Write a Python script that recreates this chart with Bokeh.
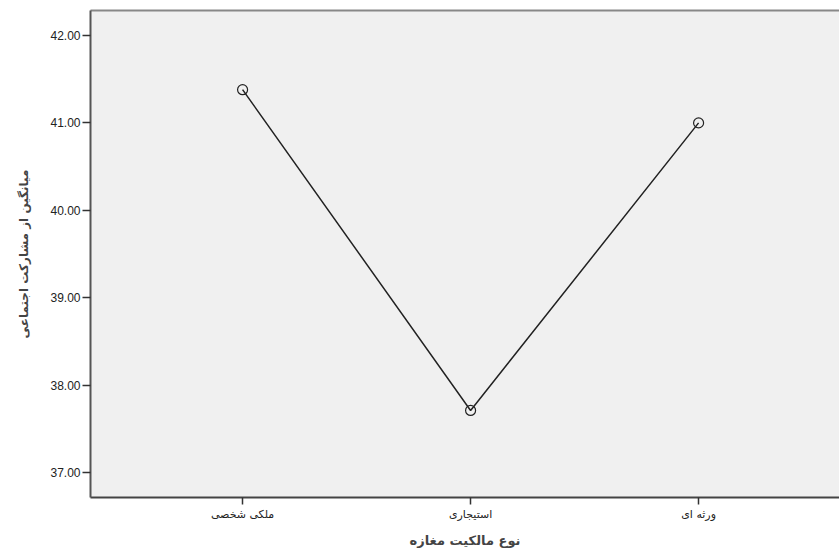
from bokeh.plotting import figure
from bokeh.models import FixedTicker, Range1d, LinearAxis
from bokeh.embed import file_html
from bokeh.resources import INLINE

categories = ["ملکی شخصی", "استیجاری", "ورثه ای"]
means = [41.38, 37.71, 41.00]
y_ticks = [37, 38, 39, 40, 41, 42]
x_title = "نوع مالکیت مغازه"
y_title = "میانگین از مشارکت اجتماعی"

xs = list(range(len(categories)))

p = figure(width=839, height=550, output_backend="svg", toolbar_location=None,
           x_range=Range1d(-0.667, 2.618), y_range=Range1d(36.714, 42.286),
           min_border_left=90, min_border_top=10, min_border_bottom=49, min_border_right=0)
p.background_fill_color = "#f0f0f0"
p.border_fill_color = "white"
p.outline_line_color = None
p.grid.visible = False

p.line(xs, means, line_color="#222222", line_width=1.5)
p.scatter(xs, means, size=10, marker="circle", fill_color=None, line_color="#222222", line_width=1.2)

ya = p.yaxis[0]
ya.ticker = FixedTicker(ticks=y_ticks)
ya.major_label_overrides = {t: f"{t:.2f}" for t in y_ticks}
ya.axis_label = y_title
ya.axis_label_text_font = "DejaVu Sans"
ya.axis_label_text_font_style = "bold"
ya.axis_label_text_font_size = "12px"
ya.axis_label_standoff = 16
ya.major_label_text_font = "Liberation Sans"
ya.major_label_text_font_size = "12px"
ya.major_label_text_color = "#222222"
ya.major_label_standoff = 2
ya.major_tick_out = 8
ya.major_tick_in = 0
ya.minor_tick_out = 0
ya.minor_tick_in = 0
ya.axis_line_width = 2
ya.axis_line_color = "#555555"
ya.major_tick_line_color = "#333333"
ya.major_tick_line_width = 1.5

xa = p.xaxis[0]
xa.ticker = FixedTicker(ticks=xs)
xa.major_label_overrides = {i: c for i, c in enumerate(categories)}
xa.axis_label = x_title
xa.axis_label_text_font = "DejaVu Sans"
xa.axis_label_text_font_style = "bold"
xa.axis_label_text_font_size = "13px"
xa.axis_label_standoff = 9
xa.major_label_text_font = "DejaVu Sans"
xa.major_label_text_font_size = "11px"
xa.major_label_text_color = "#222222"
xa.major_label_standoff = 3
xa.major_tick_out = 7
xa.major_tick_in = 0
xa.minor_tick_out = 0
xa.minor_tick_in = 0
xa.axis_line_width = 2
xa.axis_line_color = "#444444"
xa.major_tick_line_color = "#333333"
xa.major_tick_line_width = 1.5

top = LinearAxis(ticker=FixedTicker(ticks=[]), major_label_text_font_size="0px",
                 major_tick_out=0, major_tick_in=0, minor_tick_out=0, minor_tick_in=0,
                 axis_line_width=2, axis_line_color="#888888")
p.add_layout(top, "above")

open("out.html", "w").write(file_html(p, INLINE))
